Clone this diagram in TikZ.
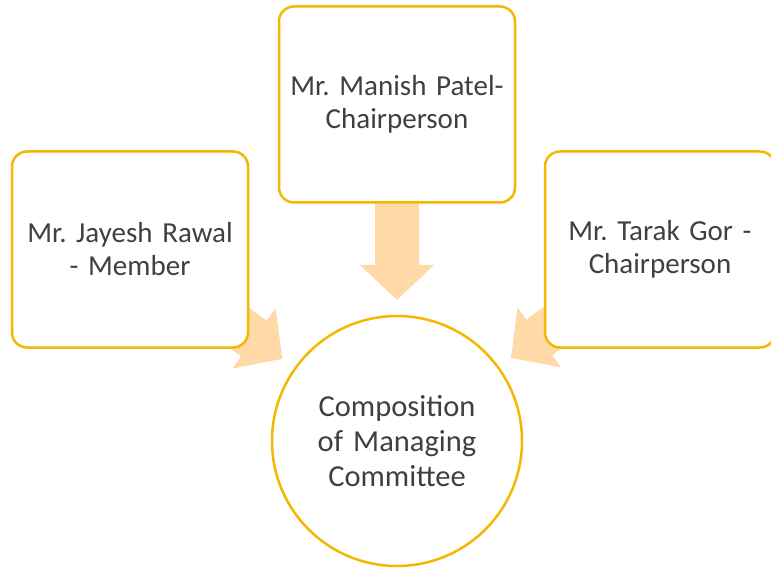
\documentclass[tikz,border=0pt]{standalone}
\usepackage{fontspec}
\setmainfont{Carlito}
\usetikzlibrary{arrows.meta}
\usetikzlibrary{backgrounds}

\definecolor{gold}{HTML}{F4B800}
\definecolor{peach}{HTML}{FFDAA8}
\definecolor{ink}{HTML}{404040}
\frenchspacing

\begin{document}
\begin{tikzpicture}
		[x=1pt, y=-1pt,
		 member/.style={rectangle, rounded corners=15pt, draw=gold, line width=2.5pt, fill=white,
			minimum width=236pt, minimum height=196pt, text width=222pt, align=center,
			text=ink, font=\fontsize{29}{33}\selectfont},
		 centre/.style={circle, draw=gold, line width=2.5pt, fill=white, minimum size=250pt,
			text width=200pt, align=center, text=ink, font=\fontsize{30.5}{35}\selectfont},
		 flow/.style={draw=peach, line width=44pt, -{Triangle[width=72pt, length=35pt]}, shorten >=141pt}]
		\useasboundingbox (0,0) rectangle (771,569);
		\clip (0,0) rectangle (771,569);

		\node[member] (manish) at (397,104.5) {Mr. Manish Patel-\\Chairperson};
		\node[member] (jayesh) at (130,249.5) {Mr. Jayesh Rawal\\- Member};
		\node[member, minimum width=230pt, text width=216pt] (tarak) at (660,249.5) {Mr. Tarak Gor -\\Chairperson};
		\node[centre] (committee) at (397,441) {Composition\\of Managing\\Committee};

		\begin{scope}[on background layer]
			\fill[white] (0,0) rectangle (771,569);
			\draw[flow] (manish.center) -- (committee.center);
			\draw[flow] (jayesh.center) -- (committee.center);
			\draw[flow] (tarak.center) -- (committee.center);
		\end{scope}
	\end{tikzpicture}
\end{document}
